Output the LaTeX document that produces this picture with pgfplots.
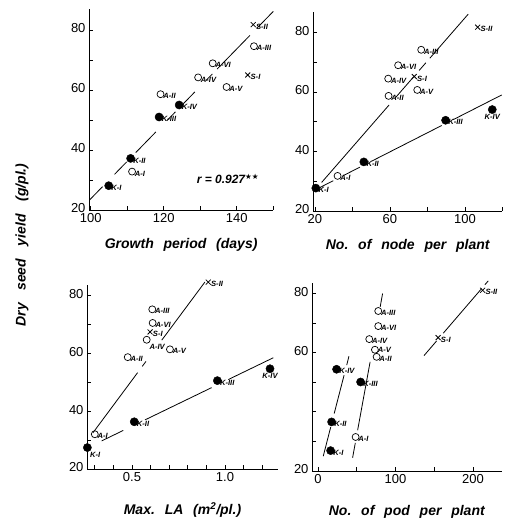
\documentclass[border=0pt]{standalone}
\usepackage{fontspec}
\setmainfont{Liberation Sans}
\newfontfamily\symfont{DejaVu Sans}
\usepackage{pgfplots}
\usepackage{pgfplotstable}
\pgfplotsset{compat=1.18}

% yield read per panel: y1 growth period, y2 nodes, y3 max LA, y4 pods
\pgfplotstableread[col sep=comma]{
lab,days,node,la,pod,y1,y2,y3,y4
K-I,104.9,20.5,0.26,16.3,28.1,27.7,27.4,26.9
K-II,110.9,46.1,0.512,17.6,37.2,36.5,36.3,36.6
K-III,118.7,89.7,0.959,55,51.0,50.5,50.5,50.1
K-IV,124.2,114.6,1.242,24,55.0,54.1,54.6,54.4
}\Ktab
\pgfplotstableread[col sep=comma]{
lab,days,node,la,pod,y1,y2,y3,y4
A-I,111.3,32.1,0.30,48.6,32.8,31.8,32.0,31.5
A-II,119.1,59.3,0.477,75.7,58.6,58.7,58.6,58.6
A-III,144.7,76.7,0.609,77.8,74.6,74.2,75.1,74.1
A-IV,129.4,59.1,0.579,66.2,64.2,64.5,64.6,64.6
A-V,137.2,74.6,0.704,73.5,61.0,60.7,61.3,61.0
A-VI,133.4,64.4,0.611,77.8,68.9,69.0,70.4,69.0
}\Atab
\pgfplotstableread[col sep=comma]{
lab,days,node,la,pod,y1,y2,y3,y4
S-I,143,73,0.597,155,65.0,65.2,67.3,65.1
S-II,144.5,106.8,0.91,212.5,81.8,81.8,84.5,81.1
}\Stab

% regression lines, broken where labels sit
\pgfplotstableread{
x y
99.7 23.4
103.2 27.77
nan nan
106.5 31.89
109.8 36.01
nan nan
112.3 39.13
117.8 46.00
nan nan
120.8 49.74
123.2 52.74
nan nan
125.3 55.36
128.5 59.36
nan nan
131.5 63.10
133.3 65.35
nan nan
134.6 66.97
143.6 78.21
nan nan
145.6 80.71
150 86.20
}\lineGP
\pgfplotstableread{
x y
23.6 29.6
59.6 55.66
nan nan
62.7 57.90
72.4 64.92
nan nan
75.6 67.24
79.2 69.84
nan nan
81.3 71.36
101.8 86.2
}\lineNA
\pgfplotstableread{
x y
22.7 27.9
29.8 30.18
nan nan
35.1 31.88
44.0 34.74
nan nan
50.2 36.73
87.6 48.73
nan nan
93.8 50.72
119.6 59.0
}\lineNK
\pgfplotstableread{
x y
0.29 32.5
0.53 53.24
nan nan
0.555 55.40
0.575 57.12
nan nan
0.66 64.47
0.892 84.51
}\lineLA
\pgfplotstableread{
x y
0.337 29.7
0.453 33.31
nan nan
0.570 36.95
0.928 48.08
nan nan
1.018 50.88
1.26 58.4
}\lineLK
\pgfplotstableread{
x y
6.8 25.0
16.5 34.9
nan nan
20.9 39.4
33.7 52.4
nan nan
37.1 55.8
40.0 58.8
}\linePK
\pgfplotstableread{
x y
44.7 24.5
48.2 29.5
nan nan
51.2 33.8
67.3 56.9
nan nan
80.3 75.5
83.4 80.0
}\linePA
\pgfplotstableread{
x y
136.8 59.0
153.1 63.97
nan nan
161.7 66.59
211.2 81.68
nan nan
215.5 82.99
219.8 84.3
}\linePS

\newcommand\lblfont{\fontsize{7.6}{7.6}\selectfont\bfseries\itshape}
\newcommand\axfont{\fontsize{14}{14}\selectfont\bfseries\itshape}
\newcommand\wsp{\hspace{0.7em}}

\pgfplotsset{
  panel/.style={
    scale only axis, anchor=south west, clip=false,
    axis lines*=left, axis line style={line width=0.8pt,-},
    tick align=inside, major tick length=3.5pt, minor tick length=3.5pt,
    tick style={black,line width=0.7pt},
    ymin=20, ytick={20,40,60,80}, minor ytick={30,50,70},
    tick label style={font=\fontsize{13}{13}\selectfont},
    yticklabel style={yshift=1.5pt},
    /pgf/number format/assume math mode=true,
    xlabel style={at={(axis description cs:0.5,0)}, anchor=center, font=\axfont},
    unbounded coords=jump,
  },
  fitline/.style={black, line width=0.8pt, no marks},
  pts/.style={only marks, nodes near coords={\pgfplotspointmeta},
    point meta=explicit symbolic,
    every node near coord/.append style={font=\lblfont, anchor=west,
      inner sep=2.5pt, yshift=-2pt}},
  below/.style={every node near coord/.append style={anchor=north}},
  belowright/.style={every node near coord/.append style={anchor=north west}},
  level/.style={every node near coord/.append style={yshift=2pt}},
  Kpts/.style={pts, mark=*, mark size=4.1pt, mark options={fill=black}},
  Apts/.style={pts, mark=o, mark size=3.5pt, mark options={fill=white, line width=0.7pt}},
  Spts/.style={pts, mark=x, mark size=3.5pt, mark options={line width=0.8pt}},
}

\begin{document}
\begin{tikzpicture}[x=1pt,y=1pt]
\path[use as bounding box] (0,0) rectangle (507,530);

% growth period
\begin{axis}[panel, at={(89pt,320pt)}, width=184.3pt, height=201pt,
  xmin=99.5, xmax=150, ymax=87,
  xtick={100,120,140}, minor xtick={110,130,150},
  xlabel={Growth\wsp period\wsp (days)}, xlabel style={yshift=-35pt}]
\addplot[fitline] table {\lineGP};
\addplot[Kpts] table[x=days,y=y1,meta=lab] {\Ktab};
\addplot[Apts] table[x=days,y=y1,meta=lab] {\Atab};
\addplot[Spts] table[x=days,y=y1,meta=lab] {\Stab};
\node[font=\fontsize{12}{12}\selectfont\bfseries\itshape] at (axis cs:137.5,30.5)
  {r = 0.927\raisebox{4pt}{\symfont\fontsize{7.5}{7.5}\selectfont ★★}};
\end{axis}

% nodes
\begin{axis}[panel, at={(313pt,319pt)}, width=189.4pt, height=199.3pt,
  xmin=19, xmax=120, ymax=87,
  xtick={20,60,100}, minor xtick={40,80,120},
  xlabel={No.\wsp of\wsp node\wsp per\wsp plant}, xlabel style={yshift=-35pt}]
\addplot[fitline] table {\lineNA};
\addplot[fitline] table {\lineNK};
\addplot[Kpts, skip coords between index={3}{4}] table[x=node,y=y2,meta=lab] {\Ktab};
\addplot[Kpts, below, skip coords between index={0}{3}] table[x=node,y=y2,meta=lab] {\Ktab};
\addplot[Apts] table[x=node,y=y2,meta=lab] {\Atab};
\addplot[Spts] table[x=node,y=y2,meta=lab] {\Stab};
\end{axis}

% max leaf area
\begin{axis}[panel, at={(87pt,61pt)}, width=191pt, height=184pt,
  xmin=0.258, xmax=1.285, ymax=83.5,
  xtick={0.5,1.0}, minor xtick={0.3,0.4,0.6,0.7,0.8,0.9,1.1,1.2},
  xticklabel style={/pgf/number format/fixed, /pgf/number format/precision=1,
    /pgf/number format/fixed zerofill},
  xlabel={Max.\wsp LA\wsp (m\textsuperscript{2}/pl.)}, xlabel style={yshift=-41pt}]
\addplot[fitline] table {\lineLA};
\addplot[fitline] table {\lineLK};
\addplot[Kpts, belowright, skip coords between index={1}{4}] table[x=la,y=y3,meta=lab] {\Ktab};
\addplot[Kpts, skip coords between index={0}{1}, skip coords between index={3}{4}] table[x=la,y=y3,meta=lab] {\Ktab};
\addplot[Kpts, below, skip coords between index={0}{3}] table[x=la,y=y3,meta=lab] {\Ktab};
\addplot[Apts, skip coords between index={3}{4}] table[x=la,y=y3,meta=lab] {\Atab};
\addplot[Apts, belowright, skip coords between index={0}{3}, skip coords between index={4}{6}] table[x=la,y=y3,meta=lab] {\Atab};
\addplot[Spts] table[x=la,y=y3,meta=lab] {\Stab};
\end{axis}

% pods
\begin{axis}[panel, at={(312pt,59pt)}, width=189.6pt, height=187.8pt,
  xmin=-7.7, xmax=237, ymax=83.5,
  xtick={0,100,200}, minor xtick={50,150},
  ytick={20,60,80}, minor ytick={30,40,50,70},
  xlabel={No.\wsp of\wsp pod\wsp per\wsp plant}, xlabel style={yshift=-41pt}]
\addplot[fitline] table {\linePK};
\addplot[fitline] table {\linePA};
\addplot[fitline] table {\linePS};
\addplot[Kpts] table[x=pod,y=y4,meta=lab] {\Ktab};
\addplot[Apts, skip coords between index={4}{5}] table[x=pod,y=y4,meta=lab] {\Atab};
\addplot[Apts, level, skip coords between index={0}{4}, skip coords between index={5}{6}] table[x=pod,y=y4,meta=lab] {\Atab};
\addplot[Spts] table[x=pod,y=y4,meta=lab] {\Stab};
\end{axis}

\node[rotate=90, font=\axfont] at (22,285) {Dry\hspace{0.9em}seed\hspace{0.9em}yield\hspace{0.9em}(g/pl.)};
\end{tikzpicture}
\end{document}
